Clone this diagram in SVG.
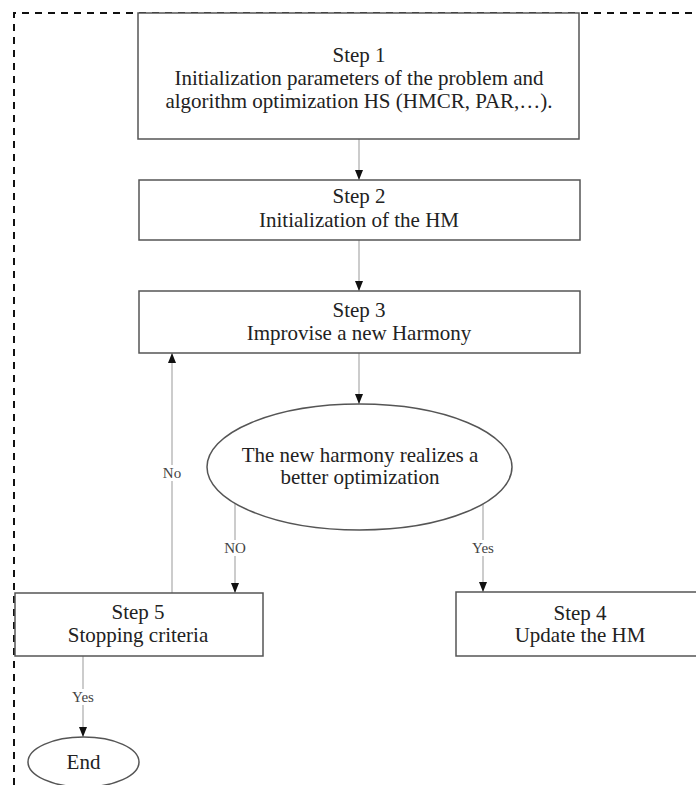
<svg xmlns="http://www.w3.org/2000/svg" width="696" height="785" viewBox="0 0 696 785">
<style>
.box{fill:#fff;stroke:#555;stroke-width:1.5}
.t{font-family:"Liberation Serif","Times New Roman",serif;font-size:21px;fill:#222;text-anchor:middle}
.lbl{font-family:"Liberation Serif","Times New Roman",serif;font-size:15px;fill:#444;text-anchor:middle}
.c{stroke:#999;stroke-width:1;fill:none;marker-end:url(#ah)}
.frame{fill:none;stroke:#111;stroke-width:2;stroke-dasharray:7,6}
</style>
<defs>
<marker id="ah" viewBox="0 0 10 10" refX="10" refY="5" markerWidth="10" markerHeight="10" markerUnits="userSpaceOnUse" orient="auto">
<path d="M0,1 L10,5 L0,9 Z" fill="#111"/>
</marker>
</defs>
<rect width="696" height="785" fill="#fff"/>
<path class="frame" d="M14,785 L14,13 L696,13"/>
<g id="connectors">
<line class="c" x1="359" y1="139" x2="359" y2="180"/>
<line class="c" x1="359" y1="240" x2="359" y2="291"/>
<line class="c" x1="359" y1="353" x2="359" y2="404"/>
<line class="c" x1="235" y1="503" x2="235" y2="593"/>
<line class="c" x1="483" y1="503" x2="483" y2="592"/>
<line class="c" x1="172" y1="593" x2="172" y2="353"/>
<line class="c" x1="83" y1="656" x2="83" y2="737"/>
<rect x="221" y="540" width="28" height="16" fill="#fff"/>
<text class="lbl" x="235" y="553">NO</text>
<rect x="470" y="540" width="27" height="16" fill="#fff"/>
<text class="lbl" x="483" y="553">Yes</text>
<rect x="160" y="465" width="24" height="16" fill="#fff"/>
<text class="lbl" x="172" y="478">No</text>
<rect x="70" y="689" width="27" height="16" fill="#fff"/>
<text class="lbl" x="83" y="702">Yes</text>
</g>
<g id="step1">
<rect class="box" x="138" y="13" width="441" height="126"/>
<text class="t" x="359" y="62">Step 1</text>
<text class="t" x="359" y="85">Initialization parameters of the problem and</text>
<text class="t" x="359" y="108">algorithm optimization HS (HMCR, PAR,…).</text>
</g>
<g id="step2">
<rect class="box" x="139" y="180" width="441" height="60"/>
<text class="t" x="359" y="203">Step 2</text>
<text class="t" x="359" y="227">Initialization of the HM</text>
</g>
<g id="step3">
<rect class="box" x="139" y="291" width="441" height="62"/>
<text class="t" x="359" y="317">Step 3</text>
<text class="t" x="359" y="340">Improvise a new Harmony</text>
</g>
<g id="decision">
<ellipse class="box" cx="359.5" cy="467" rx="152.5" ry="63"/>
<text class="t" x="360" y="462">The new harmony realizes a</text>
<text class="t" x="360" y="484">better optimization</text>
</g>
<g id="step5">
<rect class="box" x="15" y="593" width="248" height="63"/>
<text class="t" x="138" y="619">Step 5</text>
<text class="t" x="138" y="642">Stopping criteria</text>
</g>
<g id="step4">
<rect class="box" x="456" y="592" width="248" height="64"/>
<text class="t" x="580" y="620">Step 4</text>
<text class="t" x="580" y="642">Update the HM</text>
</g>
<g id="end">
<ellipse class="box" cx="83.5" cy="762" rx="55.5" ry="25"/>
<text class="t" x="83.5" y="769">End</text>
</g>
</svg>
